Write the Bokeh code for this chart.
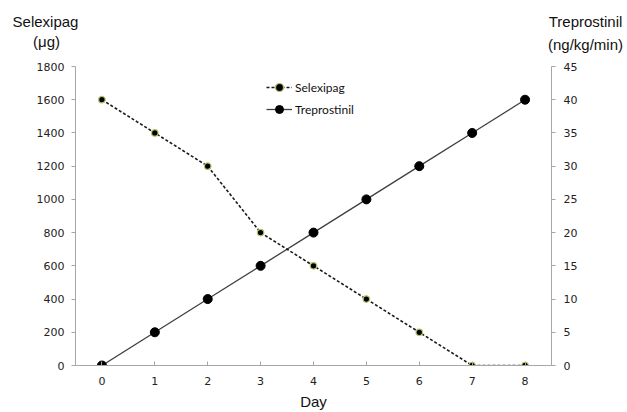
from bokeh.plotting import figure
from bokeh.layouts import column
from bokeh.models import Range1d, LinearAxis, FixedTicker, Legend, LegendItem, ColumnDataSource
from bokeh.core.properties import value
from bokeh.embed import file_html
from bokeh.resources import INLINE

days = [0, 1, 2, 3, 4, 5, 6, 7, 8]
selexipag = [1600, 1400, 1200, 800, 600, 400, 200, 0, 0]
treprostinil = [0, 5, 10, 15, 20, 25, 30, 35, 40]
left_ticks = [0, 200, 400, 600, 800, 1000, 1200, 1400, 1600, 1800]
right_ticks = [0, 5, 10, 15, 20, 25, 30, 35, 40, 45]
title_texts = ["Selexipag", "(\u03bcg)", "Treprostinil", "(ng/kg/min)"]

W = 627
HH = 56          # header height
MH = 412 - HH    # main figure height

# ---- header with the two axis titles ----
hdr = figure(width=W, height=HH, output_backend="svg", toolbar_location=None,
             x_range=Range1d(0, W), y_range=Range1d(0, HH),
             min_border=0, x_axis_location=None, y_axis_location=None)
hdr.frame_align = False
hdr.grid.visible = False
hdr.outline_line_color = None
hdr_src = ColumnDataSource(dict(text=title_texts,
                                x=[45, 46, 585, 585],
                                y=[HH - 21, HH - 41, HH - 21, HH - 44]))
hdr.text(x="x", y="y", text="text", source=hdr_src, text_align="center",
         text_baseline="middle", text_font=value("Liberation Sans"),
         text_font_size="15px", text_color="#111111")

# ---- main chart ----
p = figure(width=W, height=MH, output_backend="svg", toolbar_location=None,
           x_range=Range1d(-0.5, 8.5), y_range=Range1d(0, 1800),
           min_border_left=75, min_border_right=76, min_border_top=10, min_border_bottom=47)
p.frame_align = False
p.extra_y_ranges = {"tre": Range1d(0, 45)}
p.xgrid.visible = False
p.ygrid.visible = False
p.outline_line_color = None

axcol = "#a6a6a6"
tickfont = "DejaVu Sans"

ya = p.yaxis[0]
ya.ticker = FixedTicker(ticks=left_ticks)
ya.minor_tick_line_color = None
ya.major_tick_in = 0
ya.major_tick_out = 4
ya.axis_line_color = axcol
ya.major_tick_line_color = axcol
ya.major_label_text_font = tickfont
ya.major_label_text_font_size = "11px"
ya.major_label_text_color = "#222222"
ya.major_label_standoff = 7

ra = LinearAxis(y_range_name="tre", ticker=FixedTicker(ticks=right_ticks))
ra.minor_tick_line_color = None
ra.major_tick_in = 0
ra.major_tick_out = 4
ra.axis_line_color = axcol
ra.major_tick_line_color = axcol
ra.major_label_text_font = tickfont
ra.major_label_text_font_size = "11px"
ra.major_label_text_color = "#222222"
ra.major_label_standoff = 8
p.add_layout(ra, "right")

xa = p.xaxis[0]
xa.ticker = FixedTicker(ticks=days)
xa.minor_tick_line_color = None
xa.major_tick_in = 4
xa.major_tick_out = 0
xa.axis_line_color = axcol
xa.major_tick_line_color = axcol
xa.major_label_text_font = tickfont
xa.major_label_text_font_size = "11px"
xa.major_label_text_color = "#222222"
xa.major_label_standoff = 11
xa.axis_label = "Day"
xa.axis_label_text_font = "Liberation Sans"
xa.axis_label_text_font_size = "15px"
xa.axis_label_text_font_style = "normal"
xa.axis_label_text_color = "#111111"
xa.axis_label_standoff = 5

l1 = p.line(days, treprostinil, y_range_name="tre", line_color="#404040", line_width=1.3)
c1 = p.scatter(days, treprostinil, y_range_name="tre", size=9, fill_color="black", line_color="black")
l2 = p.line(days, selexipag, line_color="#1a1a1a", line_width=1.6, line_dash="3 2")
c2 = p.scatter(days, selexipag, size=6.5, fill_color="black", line_color="#b9c46a", line_width=1.2)

legend = Legend(items=[LegendItem(label="Selexipag", renderers=[l2, c2]),
                       LegendItem(label="Treprostinil", renderers=[l1, c1])],
                location=(191, 246), glyph_width=26, glyph_height=20, label_standoff=3,
                spacing=2, padding=0, margin=0, border_line_color=None,
                background_fill_alpha=0, label_text_font="Lato", label_text_font_size="12px",
                label_text_color="#111111")
p.add_layout(legend, "center")

layout = column(hdr, p, spacing=0)
open("out.html", "w").write(file_html(layout, INLINE))
